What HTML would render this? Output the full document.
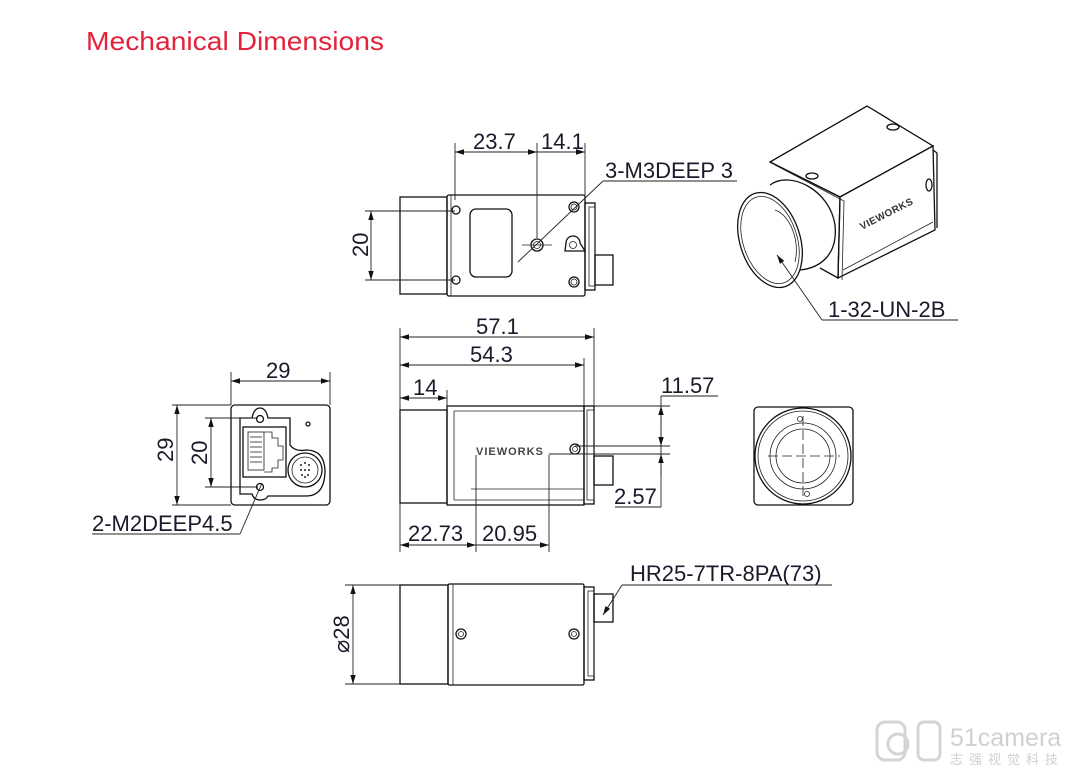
<!DOCTYPE html>
<html><head><meta charset="utf-8"><style>
html,body{margin:0;padding:0;background:#fff;}
svg{display:block}
.t{font-family:"Liberation Sans","DejaVu Sans",sans-serif;font-size:22px;fill:#1a1a2a}
.l{stroke:#111;stroke-width:1.3;fill:none}
.th{stroke:#222;stroke-width:0.8;fill:none}
.d{stroke:#222;stroke-width:0.9;fill:none}
</style></head><body>
<svg width="1067" height="776" viewBox="0 0 1067 776" xmlns="http://www.w3.org/2000/svg">
<defs>
<marker id="a" viewBox="0 0 10 10" refX="10" refY="5" markerWidth="9" markerHeight="9" orient="auto-start-reverse" markerUnits="userSpaceOnUse"><path d="M0,2 L10,5 L0,8 z" fill="#111"/></marker>
</defs>
<text x="86" y="50" textLength="298" lengthAdjust="spacingAndGlyphs" style="font-family:'Liberation Sans','DejaVu Sans',sans-serif;font-size:26px;fill:#e3223c">Mechanical Dimensions</text>

<!-- TOP VIEW -->
<rect class="l" x="400" y="197" width="47" height="97"/>
<rect class="l" x="447" y="195" width="138" height="101" rx="2"/>
<line class="th" x1="451" y1="195" x2="451" y2="296"/>
<rect class="l" x="585" y="203" width="10" height="87"/>
<rect class="th" x="589" y="207" width="6" height="79"/>
<rect class="l" x="595" y="255" width="18" height="30"/>
<rect class="l" x="470" y="209" width="42" height="68" rx="6"/>
<circle class="l" cx="456" cy="210" r="4"/><circle class="l" cx="456" cy="280" r="4"/>
<circle class="l" cx="574" cy="207" r="5"/><circle class="th" cx="574" cy="207" r="3"/>
<circle class="l" cx="574" cy="282" r="5"/><circle class="th" cx="574" cy="282" r="3"/>
<circle class="l" cx="537" cy="245" r="6"/><circle class="th" cx="537" cy="245" r="3.5"/>
<line class="th" x1="522" y1="245" x2="552" y2="245"/>
<path class="l" d="M566,243 a7,7 0 0 1 14,0 l5,8 h-20 z"/><circle class="th" cx="573" cy="245" r="3.5"/>
<line class="d" x1="455" y1="143" x2="455" y2="200"/>
<line class="d" x1="537" y1="143" x2="537" y2="238"/>
<line class="d" x1="585" y1="143" x2="585" y2="200"/>
<line class="d" x1="455" y1="152" x2="537" y2="152" marker-start="url(#a)" marker-end="url(#a)"/>
<line class="d" x1="537" y1="152" x2="585" y2="152" marker-end="url(#a)"/>
<text class="t" x="473" y="149">23.7</text><text class="t" x="541" y="149">14.1</text>
<text class="t" x="605" y="178">3-M3DEEP 3</text>
<line class="d" x1="603" y1="181" x2="737" y2="181"/>
<line class="d" x1="603" y1="181" x2="518" y2="262"/>
<line class="d" x1="365" y1="211" x2="455" y2="211"/>
<line class="d" x1="365" y1="280" x2="455" y2="280"/>
<line class="d" x1="371" y1="211" x2="371" y2="280" marker-start="url(#a)" marker-end="url(#a)"/>
<text class="t" transform="translate(368,257) rotate(-90)">20</text>

<!-- ISO VIEW -->
<g class="l">
<path d="M770,162 L867,106 L933,146 L840,197 Z" fill="#fff"/>
<path d="M840,197 L933,146 L935,230 L838,278 Z" fill="#fff"/>
<path d="M770,162 L840,197 L838,278 L820,268"/>
<path d="M775,165 L844,201 L842,280" class="th"/>
<line x1="933" y1="150" x2="937" y2="153"/><line x1="937" y1="153" x2="937" y2="228"/>
<line class="th" x1="843" y1="270" x2="933" y2="222"/>
<path d="M770,185 C790,170 830,190 835,225 C838,255 820,268 800,270 L780,278" fill="#fff"/>
<ellipse cx="770" cy="240" rx="30" ry="49" transform="rotate(-18 770 240)" fill="#fff"/>
<ellipse cx="770" cy="240" rx="27" ry="45" transform="rotate(-18 770 240)" class="th"/>
<path class="th" d="M775,210 C790,215 800,240 795,262"/>
<ellipse cx="812" cy="176" rx="6" ry="3"/><ellipse cx="893" cy="127" rx="6" ry="3"/><ellipse cx="929" cy="185" rx="3" ry="6"/>
</g>
<text x="0" y="0" transform="translate(862,230) rotate(-27)" style="font-family:'Liberation Sans',sans-serif;font-size:10px;font-weight:bold;fill:#333;letter-spacing:0.5px">VIEWORKS</text>
<line class="d" x1="822" y1="320" x2="777" y2="255" marker-end="url(#a)"/>
<line class="d" x1="822" y1="320" x2="958" y2="320"/>
<text class="t" x="828" y="317">1-32-UN-2B</text>

<!-- FRONT VIEW -->
<rect class="l" x="231" y="405" width="99" height="100" rx="4"/>
<path class="l" d="M240,418 H252 Q254,408 260,408 Q266,408 268,418 H290 V445 Q295,452 306,450 Q324,450 325,470 Q325,496 306,496 H268 Q266,500 260,500 Q254,500 252,494 H240 Z"/>
<rect class="l" x="243" y="427" width="43" height="50"/>
<rect class="th" x="248" y="432" width="16" height="38"/>
<g class="th"><line x1="250" y1="437" x2="262" y2="437"/><line x1="250" y1="442" x2="262" y2="442"/><line x1="250" y1="447" x2="262" y2="447"/><line x1="250" y1="452" x2="262" y2="452"/><line x1="250" y1="457" x2="262" y2="457"/><line x1="250" y1="462" x2="262" y2="462"/></g>
<path class="th" d="M264,432 H272 V438 H278 V446 H283 V460 H278 V468 H272 V472 H264"/>
<circle class="l" cx="260" cy="419" r="3.5"/><circle class="l" cx="260" cy="487" r="3.5"/>
<circle class="l" cx="308" cy="424" r="2"/>
<circle class="l" cx="305" cy="470" r="17"/><circle class="th" cx="305" cy="470" r="13"/>
<g fill="#222"><circle cx="301" cy="465" r="1"/><circle cx="305" cy="463" r="1"/><circle cx="309" cy="465" r="1"/><circle cx="301" cy="470" r="1"/><circle cx="305" cy="470" r="1"/><circle cx="309" cy="470" r="1"/><circle cx="302" cy="475" r="1"/><circle cx="308" cy="475" r="1"/><circle cx="305" cy="477" r="1"/></g>
<line class="d" x1="231" y1="372" x2="231" y2="405"/><line class="d" x1="330" y1="372" x2="330" y2="405"/>
<line class="d" x1="231" y1="381" x2="330" y2="381" marker-start="url(#a)" marker-end="url(#a)"/>
<text class="t" x="266" y="378">29</text>
<line class="d" x1="172" y1="405" x2="231" y2="405"/><line class="d" x1="172" y1="505" x2="231" y2="505"/>
<line class="d" x1="177" y1="405" x2="177" y2="505" marker-start="url(#a)" marker-end="url(#a)"/>
<text class="t" transform="translate(173,462) rotate(-90)">29</text>
<line class="d" x1="205" y1="418" x2="258" y2="418"/><line class="d" x1="205" y1="487" x2="258" y2="487"/>
<line class="d" x1="211" y1="418" x2="211" y2="487" marker-start="url(#a)" marker-end="url(#a)"/>
<text class="t" transform="translate(207,465) rotate(-90)">20</text>
<text class="t" x="92" y="531">2-M2DEEP4.5</text>
<line class="d" x1="92" y1="534" x2="240" y2="534"/>
<line class="d" x1="240" y1="534" x2="262" y2="483"/>

<!-- SIDE VIEW -->
<rect class="l" x="400" y="410" width="47" height="93"/>
<rect class="l" x="447" y="406" width="137" height="99"/>
<line class="th" x1="454" y1="411" x2="584" y2="411"/><line class="th" x1="454" y1="411" x2="454" y2="500"/>
<line class="th" x1="454" y1="500" x2="584" y2="500"/>
<line class="th" x1="471" y1="489" x2="584" y2="489"/>
<rect class="l" x="584" y="406" width="10" height="98"/>
<rect class="th" x="587" y="410" width="7" height="90"/>
<rect class="l" x="594" y="456" width="19" height="29"/>
<text x="476" y="455" style="font-family:'Liberation Sans',sans-serif;font-size:11px;font-weight:bold;fill:#444;letter-spacing:1px">VIEWORKS</text>
<circle class="l" cx="575" cy="449" r="5"/><circle class="th" cx="575" cy="449" r="2.5"/>
<line class="d" x1="400" y1="328" x2="400" y2="552"/>
<line class="d" x1="594" y1="328" x2="594" y2="406"/>
<line class="d" x1="584" y1="358" x2="584" y2="406"/>
<line class="d" x1="447" y1="390" x2="447" y2="406"/>
<line class="d" x1="400" y1="337" x2="594" y2="337" marker-start="url(#a)" marker-end="url(#a)"/>
<text class="t" x="476" y="334">57.1</text>
<line class="d" x1="400" y1="365" x2="584" y2="365" marker-start="url(#a)" marker-end="url(#a)"/>
<text class="t" x="470" y="362">54.3</text>
<line class="d" x1="400" y1="398" x2="447" y2="398" marker-start="url(#a)" marker-end="url(#a)"/>
<text class="t" x="413" y="395">14</text>
<line class="d" x1="594" y1="406" x2="670" y2="406"/>
<line class="d" x1="575" y1="446" x2="670" y2="446"/>
<line class="d" x1="549" y1="454" x2="670" y2="454"/>
<line class="d" x1="661" y1="396" x2="661" y2="507"/>
<line class="d" x1="661" y1="425" x2="661" y2="406" marker-end="url(#a)"/>
<line class="d" x1="661" y1="428" x2="661" y2="446" marker-end="url(#a)"/>
<line class="d" x1="661" y1="475" x2="661" y2="454" marker-end="url(#a)"/>
<line class="d" x1="661" y1="396" x2="718" y2="396"/>
<text class="t" x="661" y="393">11.57</text>
<line class="d" x1="615" y1="507" x2="661" y2="507"/>
<text class="t" x="614" y="504">2.57</text>
<line class="d" x1="476" y1="455" x2="476" y2="552"/>
<line class="d" x1="549" y1="455" x2="549" y2="552"/>
<line class="d" x1="400" y1="545" x2="476" y2="545" marker-start="url(#a)" marker-end="url(#a)"/>
<line class="d" x1="476" y1="545" x2="549" y2="545" marker-end="url(#a)"/>
<text class="t" x="408" y="541">22.73</text><text class="t" x="482" y="541">20.95</text>

<!-- END VIEW -->
<rect class="l" x="754" y="407" width="99" height="98" rx="4"/>
<circle class="l" cx="803" cy="456" r="48"/><circle class="th" cx="803" cy="456" r="45"/>
<circle class="th" cx="803" cy="456" r="33"/><circle class="th" cx="803" cy="456" r="27"/>
<circle class="th" cx="800" cy="419" r="2.5"/><circle class="th" cx="807" cy="494" r="2.5"/>
<line class="th" x1="768" y1="456" x2="840" y2="456" stroke-dasharray="10,4"/>
<line class="th" x1="803" y1="416" x2="803" y2="496" stroke-dasharray="10,4"/>

<!-- BOTTOM VIEW -->
<rect class="l" x="400" y="585" width="48" height="99"/>
<rect class="l" x="448" y="584" width="136" height="101" rx="1.5"/>
<line class="th" x1="453" y1="584" x2="453" y2="685"/>
<rect class="l" x="584" y="587" width="10" height="93"/>
<rect class="th" x="588" y="591" width="6" height="85"/>
<rect class="l" x="594" y="594" width="19" height="28"/>
<circle class="l" cx="461" cy="634" r="5"/><circle class="th" cx="461" cy="634" r="2.5"/>
<circle class="l" cx="574" cy="634" r="5"/><circle class="th" cx="574" cy="634" r="2.5"/>
<line class="d" x1="345" y1="585" x2="400" y2="585"/><line class="d" x1="345" y1="684" x2="400" y2="684"/>
<line class="d" x1="353" y1="585" x2="353" y2="684" marker-start="url(#a)" marker-end="url(#a)"/>
<text class="t" transform="translate(349,653) rotate(-90)">⌀28</text>
<text class="t" x="630" y="581">HR25-7TR-8PA(73)</text>
<line class="d" x1="622" y1="585" x2="832" y2="585"/>
<line class="d" x1="622" y1="585" x2="603" y2="615" marker-end="url(#a)"/>

<!-- watermark -->
<g fill="none" stroke="#d4d4d4" stroke-width="3">
<rect x="877" y="722" width="28" height="38" rx="8"/>
<circle cx="898" cy="744" r="10"/>
<rect x="918" y="722" width="22" height="38" rx="6"/>
</g>
<text x="950" y="746" style="font-family:'Liberation Sans',sans-serif;font-size:25px;fill:#d0d0d0">51camera</text>
<text x="950" y="764" style="font-family:'Noto Sans CJK SC',sans-serif;font-size:13px;fill:#d0d0d0;letter-spacing:6px">志强视觉科技</text>
</svg>
</body></html>
